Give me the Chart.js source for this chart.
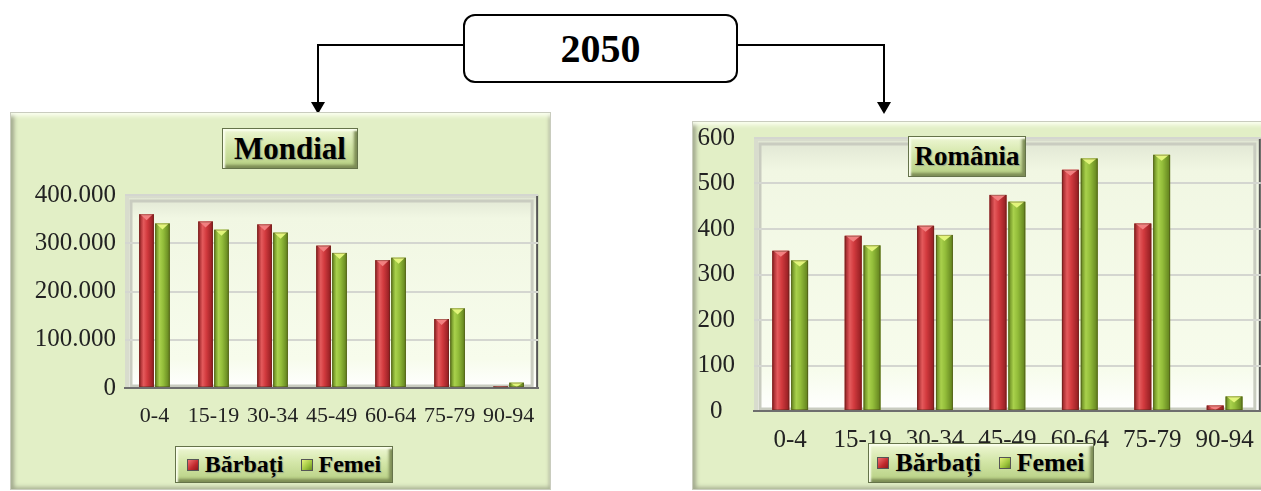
<!DOCTYPE html>
<html>
<head>
<meta charset="utf-8">
<script src="https://cdn.jsdelivr.net/npm/chart.js@4.4.0/dist/chart.umd.min.js"></script>
<style>
  body { margin: 0; width: 1261px; height: 491px; overflow: hidden; background: #fff; position: relative; font-family: "Liberation Serif", serif; }
  .panel { position: absolute; background: #e2efc6; border: 1px solid #c9ccbe; box-sizing: border-box;
    box-shadow: inset 0 6px 4px -3px #fbfff0, inset 6px 0 4px -3px #9ea68a, inset 0 -5px 4px -3px #aab394, inset -4px 0 3px -2px #c3cbad; }
  canvas { position: absolute; }
  .tbox { position: absolute; box-sizing: border-box; background: linear-gradient(#eef7d4, #d3e6a8 45%, #b6cf82);
    border: 1px solid #65734a; box-shadow: inset 2px 2px 2px #fbffee, inset -3px -3px 3px #7c8c55;
    font-weight: bold; color: #000; text-align: center; text-shadow: 1px 1px 1px #9aa58a; }
  .leg { display: flex; align-items: center; justify-content: center; gap: 5px; }
  .mk { display: inline-block; width: 10px; height: 10px; border: 1px solid #555; margin-right: 1px; }
  .mk.r { background: linear-gradient(135deg, #f07070, #c0282c 60%, #8e1a1d); }
  .mk.g { background: linear-gradient(135deg, #e4f27a, #9cc43c 60%, #6b8c22); }
  .yearbox { position: absolute; left: 463px; top: 14px; width: 275px; height: 69px; box-sizing: border-box;
    border: 2px solid #000; border-radius: 12px; background: #fff; font-size: 40px; font-weight: bold;
    display: flex; align-items: center; justify-content: center; }
</style>
</head>
<body>

<svg width="1261" height="130" style="position:absolute;left:0;top:0">
  <polyline points="463,45 318,45 318,104" fill="none" stroke="#000" stroke-width="2"/>
  <polygon points="311,102 325,102 318,114" fill="#000"/>
  <polyline points="738,45 884,45 884,104" fill="none" stroke="#000" stroke-width="2"/>
  <polygon points="877,102 891,102 884,114" fill="#000"/>
</svg>
<div class="yearbox">2050</div>

<div class="panel" style="left:10px;top:112px;width:541px;height:378px"></div>
<div class="panel" style="left:692px;top:121px;width:575px;height:369px"></div>

<canvas id="world" style="left:10px;top:112px"></canvas>
<canvas id="romania" style="left:693px;top:122px"></canvas>

<div class="tbox" style="left:222px;top:128px;width:136px;height:41px;font-size:31px;line-height:39px">Mondial</div>
<div class="tbox leg" style="left:175px;top:446px;width:218px;height:37px;font-size:24px"><span class="mk r"></span>Bărbați&nbsp;&nbsp;<span class="mk g"></span>Femei</div>

<div class="tbox" style="left:908px;top:136px;width:118px;height:41px;font-size:27px;line-height:39px">România</div>
<div class="tbox leg" style="left:868px;top:443px;width:226px;height:40px;font-size:26px"><span class="mk r"></span>Bărbați&nbsp;&nbsp;<span class="mk g"></span>Femei</div>

<script>
// grupe de vârstă
const ageGroups = ["0-4", "15-19", "30-34", "45-49", "60-64", "75-79", "90-94"];

// Mondial (mii)
const worldMen   = [360000, 345000, 339000, 295000, 265000, 143000, 3000];
const worldWomen = [341000, 328000, 322000, 280000, 270000, 165000, 11000];

// România (mii)
const roMen   = [352, 385, 407, 475, 530, 412, 12];
const roWomen = [331, 364, 387, 460, 555, 563, 32];

const seriesNames = ["Bărbați", "Femei"];

const dotThousands = v => String(v).replace(/\B(?=(\d{3})+(?!\d))/g, ".");

// fundal 3D pentru zona graficului
const plotBack = {
    id: "plotBack",
    beforeDraw(chart) {
        const { ctx, chartArea: a } = chart;
        ctx.save();
        let g = ctx.createLinearGradient(0, a.top, 0, a.bottom);
        g.addColorStop(0, "#dfe5d2");
        g.addColorStop(0.12, "#f1f7e3");
        g.addColorStop(0.85, "#f7fcec");
        g.addColorStop(1, "#ffffff");
        ctx.fillStyle = g;
        ctx.fillRect(a.left, a.top, a.right - a.left, a.bottom - a.top);
        // cadru interior
        ctx.strokeStyle = "#c9ccc0";
        ctx.lineWidth = 3;
        ctx.strokeRect(a.left + 6, a.top + 6, a.right - a.left - 12, a.bottom - a.top - 8);
        ctx.strokeStyle = "#d8dccd";
        ctx.lineWidth = 4;
        ctx.beginPath();
        ctx.moveTo(a.left + 2, a.bottom);
        ctx.lineTo(a.left + 2, a.top + 1);
        ctx.lineTo(a.right, a.top + 1);
        ctx.stroke();
        ctx.strokeStyle = "#555";
        ctx.lineWidth = 2;
        ctx.beginPath();
        ctx.moveTo(a.right - 1, a.top);
        ctx.lineTo(a.right - 1, a.bottom);
        ctx.stroke();
        ctx.restore();
    }
};

// bare cu aspect cilindric
const shadedBars = {
    id: "shadedBars",
    afterDatasetsDraw(chart) {
        const ctx = chart.ctx;
        const palettes = [
            { dark: "#8f1c20", mid: "#d23a3e", light: "#e45a5c", cap: "#f28080" },
            { dark: "#5f7f1c", mid: "#93bd3a", light: "#a9d14c", cap: "#e2f57a" }
        ];
        chart.data.datasets.forEach((ds, i) => {
            const p = palettes[i];
            chart.getDatasetMeta(i).data.forEach(bar => {
                const { x, y, base, width } = bar.getProps(["x", "y", "base", "width"], true);
                const l = x - width / 2, h = base - y;
                if (h <= 0) return;
                const g = ctx.createLinearGradient(l, 0, l + width, 0);
                g.addColorStop(0, p.dark);
                g.addColorStop(0.3, p.light);
                g.addColorStop(0.55, p.mid);
                g.addColorStop(1, p.dark);
                ctx.save();
                ctx.fillStyle = g;
                ctx.fillRect(l, y, width, h);
                const capH = Math.min(6, h);
                ctx.fillStyle = p.cap;
                ctx.beginPath();
                ctx.moveTo(l + 1, y);
                ctx.lineTo(l + width - 1, y);
                ctx.lineTo(x, y + capH);
                ctx.closePath();
                ctx.fill();
                ctx.strokeStyle = "rgba(60,40,20,0.35)";
                ctx.lineWidth = 1;
                ctx.strokeRect(l + 0.5, y + 0.5, width - 1, h - 1);
                ctx.restore();
            });
        });
    }
};

function makeChart(id, men, women, yMax, yStep, fmt, box) {
    const canvas = document.getElementById(id);
    canvas.width = box.w;
    canvas.height = box.h;
    return new Chart(canvas, {
        type: "bar",
        data: {
            labels: ageGroups,
            datasets: [
                { label: seriesNames[0], data: men, backgroundColor: "#c83034" },
                { label: seriesNames[1], data: women, backgroundColor: "#93bd3a" }
            ]
        },
        options: {
            responsive: false,
            animation: false,
            devicePixelRatio: 1,
            categoryPercentage: box.cat,
            barPercentage: box.bar,
            layout: { padding: box.pad },
            plugins: { legend: { display: false }, title: { display: false }, tooltip: { enabled: false } },
            scales: {
                x: {
                    grid: { display: false, drawTicks: false },
                    border: { color: "#6e6e6e", width: 2 },
                    ticks: { color: "#222", padding: box.xPad, maxRotation: 0, autoSkip: false,
                             font: { family: "Liberation Serif", size: box.xFont } },
                    afterFit: s => { s.height = box.xH; }
                },
                y: {
                    min: 0, max: yMax,
                    grid: { color: "#d4d6d0", lineWidth: 2, drawTicks: false },
                    border: { display: false },
                    ticks: { stepSize: yStep, color: "#222", padding: box.yPad, callback: fmt,
                             crossAlign: box.yAlign,
                             font: { family: "Liberation Serif", size: box.yFont } },
                    afterFit: s => { s.width = box.yW; s.paddingTop = 0; }
                }
            }
        },
        plugins: [plotBack, shadedBars]
    });
}

makeChart("world", worldMen, worldWomen, 400000, 100000, v => dotThousands(v), {
    w: 540, h: 377, pad: { top: 83, right: 10, bottom: 61, left: 0 },
    yW: 115, yPad: 9, yAlign: "near", yFont: 25, xFont: 22, xH: 40, xPad: 15, cat: 0.54, bar: 0.92
});

makeChart("romania", roMen, roWomen, 600, 100, v => v, {
    w: 575, h: 367, pad: { top: 16, right: 3, bottom: 38, left: 0 },
    yW: 61, yPad: 19, yAlign: "center", yFont: 25, xFont: 25, xH: 40, xPad: 14, cat: 0.52, bar: 0.9
});
</script>
</body>
</html>
